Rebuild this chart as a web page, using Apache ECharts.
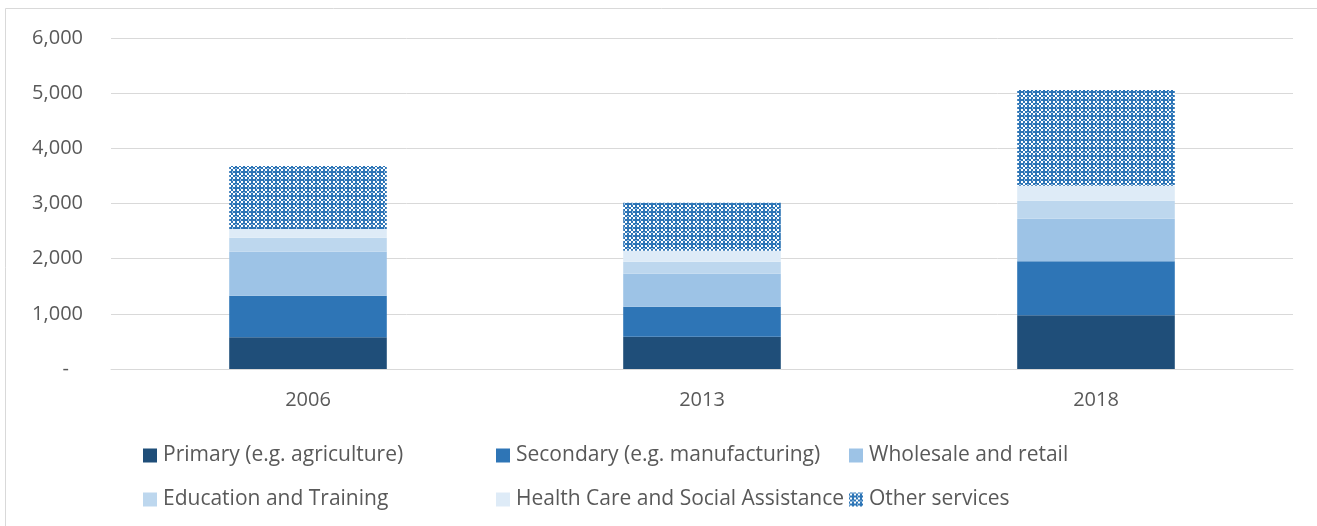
<!DOCTYPE html>
<html><head><meta charset="utf-8">
<script src="https://cdn.jsdelivr.net/npm/echarts@6/dist/echarts.min.js"></script>
<style>html,body{margin:0;padding:0;background:#fff}#c{width:1317px;height:526px}</style>
</head><body><div id="c"></div>
<script>
const categories = ['2006', '2013', '2018'];
const seriesNames = ['Primary (e.g. agriculture)', 'Secondary (e.g. manufacturing)', 'Wholesale and retail', 'Education and Training', 'Health Care and Social Assistance', 'Other services'];
const primary = [575, 586, 973];
const secondary = [754, 544, 979];
const wholesale = [797, 598, 773];
const education = [254, 217, 326];
const health = [158, 200, 272];
const otherServices = [1142, 870, 1734];
const yTicks = [0, 1000, 2000, 3000, 4000, 5000, 6000];

const values = [primary, secondary, wholesale, education, health, otherServices];

function makePattern() {
  const c = document.createElement('canvas');
  c.width = 8; c.height = 8;
  const g = c.getContext('2d');
  g.fillStyle = '#2E75B6'; g.fillRect(0, 0, 8, 8);
  g.fillStyle = '#ffffff';
  g.fillRect(1, 1, 2, 2); g.fillRect(5, 1, 2, 2); g.fillRect(1, 5, 2, 2); g.fillRect(5, 5, 2, 2);
  g.fillRect(0, 0, 1, 1); g.fillRect(7, 0, 1, 1); g.fillRect(0, 7, 1, 1); g.fillRect(7, 7, 1, 1);
  g.fillStyle = '#9DC3E6';
  g.fillRect(3, 0, 2, 1); g.fillRect(0, 3, 1, 2);
  return c;
}
const colors = ['#1F4E79', '#2E75B6', '#9DC3E6', '#BDD7EE', '#DEEBF7', { image: makePattern(), repeat: 'repeat' }];

const font = '"Open Sans", Lato, sans-serif';
const legendPos = [[143, 445], [496, 445], [849, 445], [143, 489], [496, 489], [849, 489]];

const chart = echarts.init(document.getElementById('c'), null, { renderer: 'canvas' });
chart.setOption({
  animation: false,
  backgroundColor: '#ffffff',
  grid: { left: 111, right: 24, top: 38, bottom: 157, containLabel: false },
  graphic: [{ type: 'rect', shape: { x: 5.5, y: 8.5, width: 1400, height: 700 }, style: { fill: 'none', stroke: '#D9D9D9', lineWidth: 1 }, silent: true }],
  legend: seriesNames.map((n, i) => ({
    data: [n], left: legendPos[i][0], top: legendPos[i][1], padding: 0,
    itemWidth: 14, itemHeight: 14, itemGap: 0, icon: 'rect',
    textStyle: { color: '#595959', fontSize: 21, fontFamily: font, padding: [0, 0, 0, 1] },
    selectedMode: false
  })),
  xAxis: {
    type: 'category', data: categories,
    axisLine: { lineStyle: { color: '#D9D9D9', width: 1 } },
    axisTick: { show: false },
    axisLabel: { color: '#595959', fontSize: 20, fontFamily: font, margin: 21 }
  },
  yAxis: {
    type: 'value', min: 0, max: 6000, interval: 1000,
    axisLine: { show: false }, axisTick: { show: false },
    splitLine: { lineStyle: { color: '#D9D9D9', width: 1 } },
    axisLabel: {
      color: '#595959', fontSize: 20, fontFamily: font, margin: 28,
      formatter: v => v === 0 ? '{d|-}' : v.toLocaleString('en-US'),
      rich: { d: { color: '#595959', fontSize: 20, fontFamily: font, padding: [0, 14, 0, 0] } }
    }
  },
  series: seriesNames.map((n, i) => ({
    name: n, type: 'bar', stack: 'total', data: values[i], barWidth: '40%',
    itemStyle: { color: colors[i] }
  }))
});
</script></body></html>
